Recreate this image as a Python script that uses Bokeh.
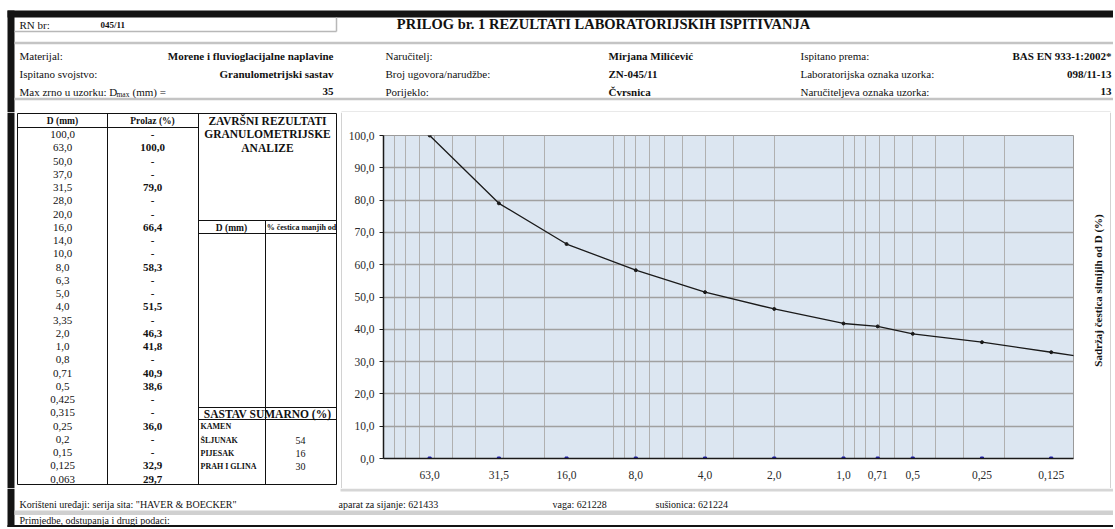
import math
from bokeh.plotting import figure
from bokeh.models import Range1d, ColumnDataSource, FixedTicker, CustomJSTickFormatter
from bokeh.layouts import column, row
from bokeh.core.properties import value
from bokeh.embed import file_html
from bokeh.resources import INLINE

# ---------------- data ----------------
report_no = "045/11"
title_text = "PRILOG br. 1 REZULTATI LABORATORIJSKIH ISPITIVANJA"

hdr_labels_1 = ["Materijal:", "Ispitano svojstvo:"]
hdr_values_1 = ["Morene i fluvioglacijalne naplavine", "Granulometrijski sastav", "35"]
hdr_labels_2 = ["Naručitelj:", "Broj ugovora/narudžbe:", "Porijeklo:"]
hdr_values_2 = ["Mirjana Milićević", "ZN-045/11", "Čvrsnica"]
hdr_labels_3 = ["Ispitano prema:", "Laboratorijska oznaka uzorka:", "Naručiteljeva oznaka uzorka:"]
hdr_values_3 = ["BAS EN 933-1:2002*", "098/11-13", "13"]

sieve_d = ["100,0", "63,0", "50,0", "37,0", "31,5", "28,0", "20,0", "16,0", "14,0", "10,0",
           "8,0", "6,3", "5,0", "4,0", "3,35", "2,0", "1,0", "0,8", "0,71", "0,5", "0,425",
           "0,315", "0,25", "0,2", "0,15", "0,125", "0,063"]
prolaz = ["-", "100,0", "-", "-", "79,0", "-", "-", "66,4", "-", "-", "58,3", "-", "-", "51,5",
          "-", "46,3", "41,8", "-", "40,9", "38,6", "-", "-", "36,0", "-", "-", "32,9", "29,7"]

final_title = ["ZAVRŠNI REZULTATI", "GRANULOMETRIJSKE", "ANALIZE"]
sastav_labels = ["KAMEN", "ŠLJUNAK", "PIJESAK", "PRAH I GLINA"]
sastav_values = ["", "54", "16", "30"]

d_mm = [63.0, 31.5, 16.0, 8.0, 4.0, 2.0, 1.0, 0.71, 0.5, 0.25, 0.125, 0.063]
passing = [100.0, 79.0, 66.4, 58.3, 51.5, 46.3, 41.8, 40.9, 38.6, 36.0, 32.9, 29.7]
x_tick_vals = [63.0, 31.5, 16.0, 8.0, 4.0, 2.0, 1.0, 0.71, 0.5, 0.25, 0.125]
y_tick_vals = [0, 10, 20, 30, 40, 50, 60, 70, 80, 90, 100]
y_title = "Sadržaj čestica sitnijih od D (%)"

footer_items = ["Korišteni uređaji:", "serija sita: \"HAVER & BOECKER\"", "aparat za sijanje: 621433",
                "vaga: 621228", "sušionica: 621224"]
remarks = "Primjedbe, odstupanja i drugi podaci:"

SERIF = "Liberation Serif"
W = 1113
HDR_B = 112      # header bottom (page px)
ROW_B = 488      # chart row bottom
PAGE_B = 527
TAB_R = 342      # table figure right edge
CH_R = 1082      # chart figure right edge


def page_fig(w, h, x0, x1, y0, y1):
    p = figure(width=w, height=h, x_range=Range1d(x0, x1), y_range=Range1d(y1, y0),
               x_axis_location=None, y_axis_location=None, toolbar_location=None,
               output_backend="svg", min_border=0, outline_line_color=None,
               background_fill_color="white", border_fill_color="white")
    p.xgrid.visible = False
    p.ygrid.visible = False
    p.frame_align = False
    return p


def txt(p, xs, ys, texts, size, bold=False, align="left", color="#111111", angle=0.0):
    src = ColumnDataSource(dict(x=list(xs), y=list(ys), t=list(texts)))
    p.text(x="x", y="y", text="t", source=src, text_font=value(SERIF),
           text_font_size=value(size), text_font_style="bold" if bold else "normal",
           text_align=align, text_baseline="middle", text_color=color, angle=angle)


def seg(p, x0, y0, x1, y1, color="#111111", width=1.0):
    p.segment(x0=x0, y0=y0, x1=x1, y1=y1, line_color=color, line_width=width)


def box(p, l, r, t, b, color):
    p.quad(left=l, right=r, top=t, bottom=b, fill_color=color, line_color=None)


# ---------------- header ----------------
hdr = page_fig(W, HDR_B, 0, W, 0, HDR_B)
box(hdr, 7, W, 10, 17, "#141414")
box(hdr, 7, 14, 10, HDR_B, "#141414")
seg(hdr, 14, 31, 336, 31, "#b8b8b8", 1.5)
seg(hdr, 336, 17, 336, 31, "#b8b8b8", 1.5)
seg(hdr, 14, 42.5, W, 42.5, "#c4c4c4", 2.5)
seg(hdr, 14, 98.5, W, 98.5, "#c4c4c4", 2.5)
seg(hdr, 341, 111.5, 1110, 111.5, "#d2d2d2", 1)          # chart area top edge
txt(hdr, [19], [24], ["RN br:"], "11px")
txt(hdr, [100], [24], [report_no], "9px", bold=True)
txt(hdr, [603], [23.5], [title_text], "14.5px", bold=True, align="center")
rows_y = [55, 73, 91]
txt(hdr, [19, 19], rows_y[:2], hdr_labels_1, "11px")
txt(hdr, [19], [91], ["Max zrno u uzorku: D"], "11px")
txt(hdr, [116], [94], ["max"], "7.5px")
txt(hdr, [132], [91], ["(mm) ="], "11px")
txt(hdr, [333] * 3, rows_y, hdr_values_1, "11px", bold=True, align="right")
txt(hdr, [385] * 3, rows_y, hdr_labels_2, "11px")
txt(hdr, [608] * 3, rows_y, hdr_values_2, "11px", bold=True)
txt(hdr, [800] * 3, rows_y, hdr_labels_3, "11px")
txt(hdr, [W - 2] * 3, rows_y, hdr_values_3, "11px", bold=True, align="right")

# ---------------- left table ----------------
tab = page_fig(TAB_R, ROW_B - HDR_B, 0, TAB_R, HDR_B, ROW_B)
box(tab, 7, 14, HDR_B, ROW_B, "#141414")
seg(tab, 341, HDR_B, 341, ROW_B, "#d2d2d2", 1)            # chart area left edge
L, C1, C2, R, T, B = 17, 107, 198, 336, 113, 484
for xx in (L, C1, C2, R):
    seg(tab, xx, T, xx, B)
seg(tab, L, T, R, T)
seg(tab, L, B, R, B)
seg(tab, L, 127, C2, 127)
seg(tab, C2, 220, R, 220)
seg(tab, C2, 233, R, 233)
seg(tab, 265, 220, 265, B)
seg(tab, C2, 407, R, 407)
seg(tab, C2, 419, R, 419)
txt(tab, [62, 152], [120, 120], ["D (mm)", "Prolaz (%)"], "9.5px", bold=True, align="center")
row_y = [134 + i * 13.25 for i in range(len(sieve_d))]
txt(tab, [62] * len(sieve_d), row_y, sieve_d, "11px", align="center")
txt(tab, [152] * len(prolaz), row_y, prolaz, "11px", bold=True, align="center")
txt(tab, [267] * 3, [120, 133.5, 147], final_title, "11.5px", bold=True, align="center")
txt(tab, [231], [227], ["D (mm)"], "9.5px", bold=True, align="center")
txt(tab, [301], [227], ["% čestica manjih od"], "8px", bold=True, align="center")
txt(tab, [267], [413], ["SASTAV SUMARNO (%)"], "11.5px", bold=True, align="center")
sy = [426, 440, 453, 466]
txt(tab, [200] * 4, sy, sastav_labels, "8px", bold=True)
txt(tab, [300] * 4, sy, sastav_values, "10px", align="center")

# ---------------- chart ----------------
CW = CH_R - TAB_R
ch = figure(width=CW, height=ROW_B - HDR_B, x_axis_type="log", x_range=Range1d(100, 0.1),
            y_range=Range1d(0, 100), toolbar_location=None, output_backend="svg",
            min_border_left=383 - TAB_R, min_border_right=CH_R - 1073,
            min_border_top=135 - HDR_B, min_border_bottom=ROW_B - 458,
            background_fill_color="#dce6f1", border_fill_color="white",
            outline_line_color="#9a9a9a", outline_line_width=1)
ch.frame_align = False
grid_vals = []
for dec in (0.1, 1.0, 10.0):
    grid_vals += [round(k * dec, 3) for k in range(1, 10)]
grid_vals.append(100.0)
ch.xgrid.ticker = FixedTicker(ticks=grid_vals)
ch.xgrid.grid_line_color = "#b0b0b0"
ch.xgrid.grid_line_width = 1
ch.ygrid.ticker = FixedTicker(ticks=y_tick_vals)
ch.ygrid.grid_line_color = "#a0a0a0"
ch.ygrid.grid_line_width = 1.5

ch.xaxis.ticker = FixedTicker(ticks=x_tick_vals)
ch.xaxis.formatter = CustomJSTickFormatter(
    code="var s = Number.isInteger(tick) ? tick.toFixed(1) : String(tick); return s.replace('.', ',');")
ch.yaxis.ticker = FixedTicker(ticks=y_tick_vals)
ch.yaxis.formatter = CustomJSTickFormatter(code="return tick.toFixed(1).replace('.', ',');")
for ax in (ch.xaxis, ch.yaxis):
    ax.axis_line_color = "#1a1a1a"
    ax.axis_line_width = 1.5
    ax.minor_tick_line_color = None
    ax.major_label_text_font = SERIF
    ax.major_label_text_font_size = "11.5px"
    ax.major_label_text_color = "#2a2a2a"
ch.xaxis.major_tick_line_color = None
ch.xaxis.major_label_standoff = 6
ch.yaxis.major_tick_line_color = "#1a1a1a"
ch.yaxis.major_tick_out = 4
ch.yaxis.major_tick_in = 0
ch.yaxis.major_label_standoff = 5

ch.line(d_mm, passing, line_color="#1a1a1a", line_width=1.3)
ch.scatter(d_mm, passing, size=3, color="#1a1a1a")
ch.scatter(x_tick_vals, [0] * len(x_tick_vals), size=3, marker="square", color="#2020b0")

# ---------------- right side (axis title) ----------------
side = page_fig(W - CH_R, ROW_B - HDR_B, CH_R, W, HDR_B, ROW_B)
seg(side, 1110, HDR_B, 1110, ROW_B, "#d2d2d2", 1)
txt(side, [1097], [290], [y_title], "11px", bold=True, align="center", angle=math.pi / 2)

# ---------------- footer ----------------
ft = page_fig(W, PAGE_B - ROW_B, 0, W, ROW_B, PAGE_B)
box(ft, 7, 14, ROW_B, PAGE_B, "#141414")
box(ft, 340, W, ROW_B, 491, "#d6d6d6")
txt(ft, [19, 92, 338, 552, 655], [504] * 5, footer_items, "10px")
box(ft, 14, W, 510, 514.5, "#d0d0d0")
txt(ft, [19], [520], [remarks], "10px")
box(ft, 7, W, 524.5, PAGE_B, "#141414")

layout = column(hdr, row(tab, ch, side), ft)
open("out.html", "w").write(file_html(layout, INLINE))
